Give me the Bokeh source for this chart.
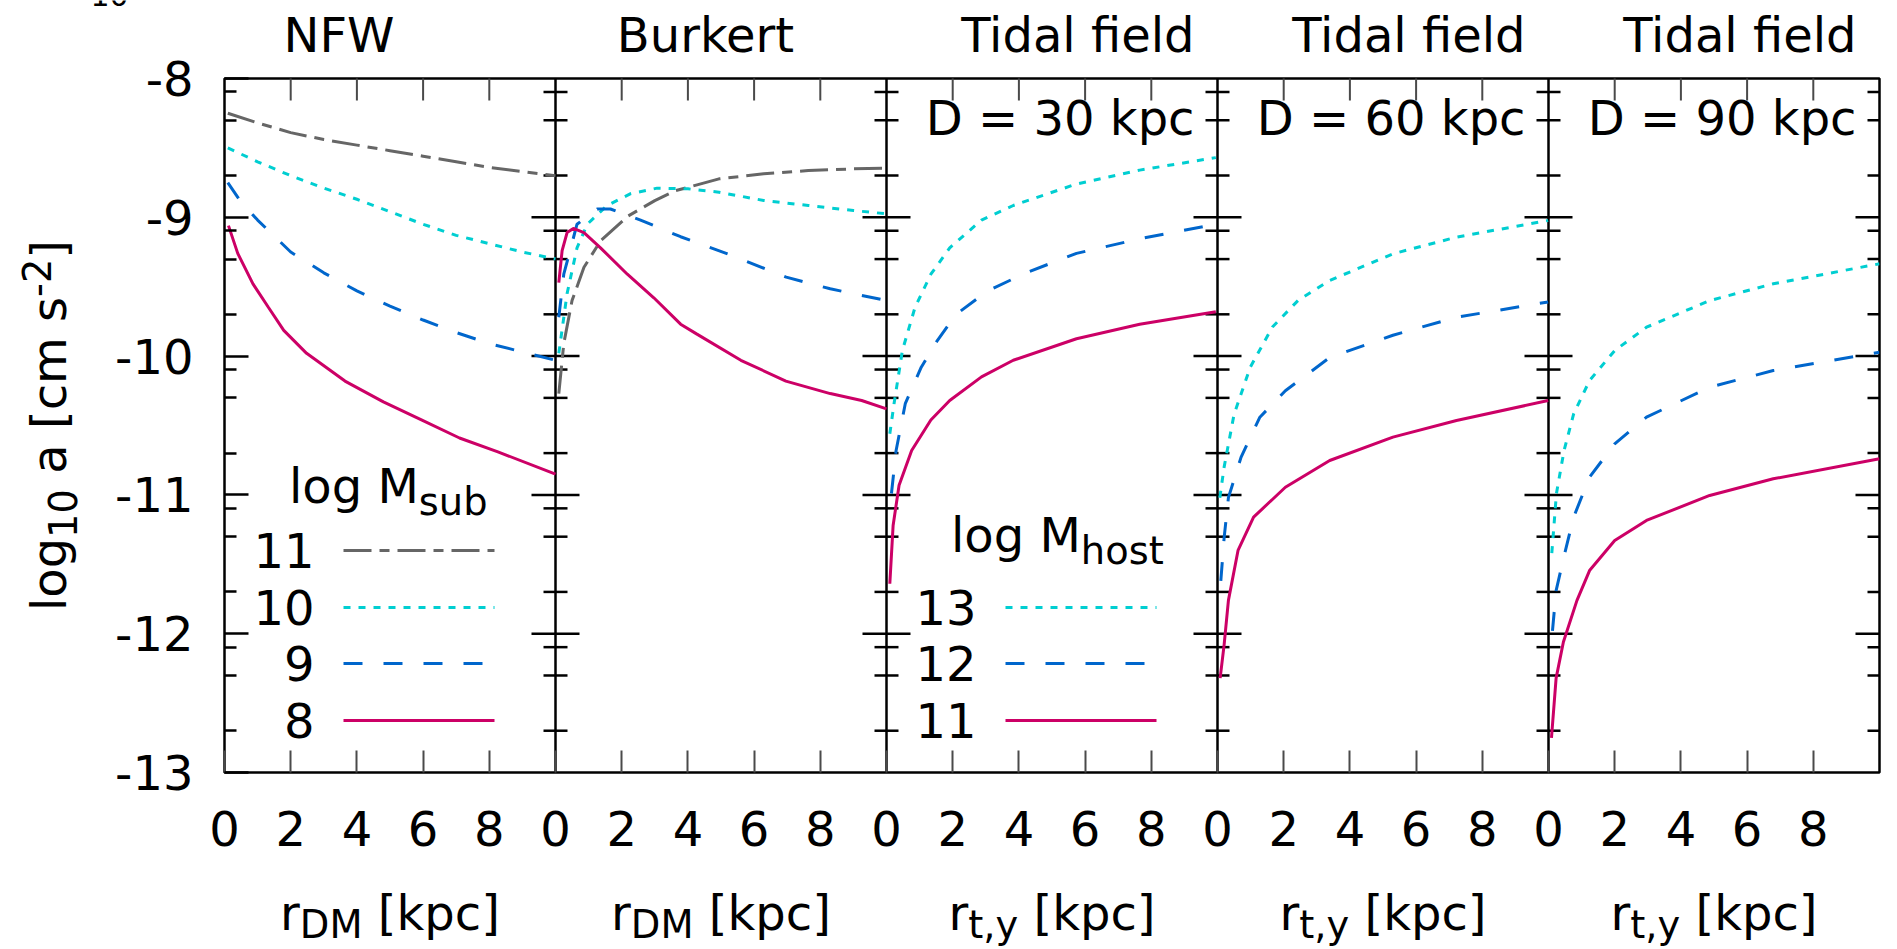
import math
from bokeh.plotting import figure
from bokeh.layouts import column, row
from bokeh.models import Range1d, FixedTicker, Label
from bokeh.embed import file_html
from bokeh.resources import INLINE

# ---------------- data ----------------
panel_titles = ["NFW", "Burkert", "Tidal field", "Tidal field", "Tidal field"]
panel_notes = ["", "", "D = 30 kpc", "D = 60 kpc", "D = 90 kpc"]
x_label_subs = ["DM", "DM", "t,y", "t,y", "t,y"]
x_tick_values = [0, 2, 4, 6, 8]
y_tick_values = [-13, -12, -11, -10, -9, -8]
y_minor_mantissas = [2, 5, 8]
sub_mass_labels = ["11", "10", "9", "8"]
host_mass_labels = ["13", "12", "11"]

# NFW, log M_sub = 11, 10, 9, 8
nfw_m11_x = [0.1, 1, 2, 3, 4, 5, 6, 7, 8, 9, 10]
nfw_m11_y = [-8.25, -8.32, -8.39, -8.44, -8.48, -8.52, -8.56, -8.60, -8.64, -8.67, -8.70]
nfw_m10_x = [0.1, 1, 2, 3, 4, 5, 6, 7, 8, 9, 10]
nfw_m10_y = [-8.50, -8.60, -8.70, -8.79, -8.87, -8.96, -9.05, -9.13, -9.19, -9.25, -9.30]
nfw_m9_x = [0.1, 0.5, 1, 2, 3, 4, 5, 6, 7, 8, 9, 10]
nfw_m9_y = [-8.75, -8.89, -9.02, -9.25, -9.40, -9.53, -9.64, -9.74, -9.83, -9.91, -9.97, -10.03]
nfw_m8_x = [0.12, 0.4, 0.86, 1.33, 1.79, 2.48, 3.64, 4.8, 5.95, 7.1, 8.26, 10]
nfw_m8_y = [-9.06, -9.26, -9.48, -9.65, -9.815, -9.98, -10.18, -10.33, -10.46, -10.59, -10.69, -10.85]

# Burkert, log M_sub = 11, 10, 9, 8
bur_m11_x = [0.1, 0.25, 0.5, 0.86, 1.36, 2.2, 3.0, 3.6, 4.94, 6.29, 7.64, 9.0, 10]
bur_m11_y = [-10.27, -9.91, -9.6, -9.36, -9.17, -8.99, -8.88, -8.81, -8.723, -8.687, -8.663, -8.651, -8.646]
bur_m10_x = [0.1, 0.35, 0.65, 0.96, 1.56, 2.27, 3.07, 4.0, 4.94, 6.29, 7.64, 9.0, 10]
bur_m10_y = [-9.98, -9.55, -9.22, -9.05, -8.915, -8.83, -8.79, -8.795, -8.819, -8.879, -8.915, -8.951, -8.975]
bur_m9_x = [0.1, 0.25, 0.65, 1.26, 1.66, 2.57, 3.78, 5.2, 6.97, 8.3, 10]
bur_m9_y = [-9.72, -9.41, -9.05, -8.94, -8.94, -9.02, -9.14, -9.263, -9.431, -9.515, -9.6]
bur_m8_x = [0.1, 0.2, 0.35, 0.54, 0.86, 1.36, 2.17, 2.97, 3.78, 4.26, 5.6, 6.96, 8.3, 9.25, 10]
bur_m8_y = [-9.47, -9.24, -9.11, -9.08, -9.11, -9.22, -9.41, -9.58, -9.77, -9.84, -10.03, -10.18, -10.27, -10.32, -10.38]

# Tidal field D = 30 kpc, log M_host = 13, 12, 11
t30_h13_x = [0.1, 0.23, 0.48, 0.86, 1.34, 1.91, 2.87, 3.83, 5.74, 7.65, 9.95]
t30_h13_y = [-10.56, -10.34, -9.96, -9.65, -9.41, -9.22, -9.02, -8.915, -8.76, -8.66, -8.57]
t30_h12_x = [0.15, 0.29, 0.57, 1.05, 1.53, 2.1, 3.06, 4.21, 5.74, 7.65, 9.95]
t30_h12_y = [-10.99, -10.68, -10.34, -10.08, -9.89, -9.70, -9.53, -9.40, -9.26, -9.155, -9.05]
t30_h11_x = [0.1, 0.2, 0.38, 0.76, 1.34, 1.91, 2.87, 3.83, 5.74, 7.65, 9.95]
t30_h11_y = [-11.64, -11.22, -10.93, -10.68, -10.46, -10.32, -10.15, -10.03, -9.875, -9.77, -9.68]

# Tidal field D = 60 kpc
t60_h13_x = [0.07, 0.2, 0.5, 0.99, 1.66, 2.43, 3.39, 5.3, 7.22, 9.99]
t60_h13_y = [-11.02, -10.8, -10.42, -10.08, -9.79, -9.60, -9.455, -9.263, -9.143, -9.023]
t60_h12_x = [0.1, 0.2, 0.33, 0.71, 1.28, 2.05, 3.39, 5.3, 7.22, 9.99]
t60_h12_y = [-11.62, -11.31, -11.02, -10.73, -10.44, -10.25, -10.01, -9.85, -9.72, -9.61]
t60_h11_x = [0.08, 0.2, 0.33, 0.62, 1.09, 2.05, 3.39, 5.3, 7.22, 9.99]
t60_h11_y = [-12.32, -12.08, -11.76, -11.4, -11.16, -10.945, -10.752, -10.584, -10.464, -10.32]

# Tidal field D = 90 kpc
t90_h13_x = [0.1, 0.24, 0.47, 0.76, 1.24, 2.0, 2.96, 4.87, 6.79, 10]
t90_h13_y = [-11.42, -10.99, -10.68, -10.416, -10.176, -9.96, -9.792, -9.6, -9.479, -9.335]
t90_h12_x = [0.12, 0.23, 0.45, 0.76, 1.24, 2.0, 2.96, 4.87, 6.79, 10]
t90_h12_y = [-11.98, -11.69, -11.46, -11.16, -10.872, -10.632, -10.44, -10.224, -10.104, -9.972]
t90_h11_x = [0.09, 0.23, 0.45, 0.86, 1.24, 2.0, 2.96, 4.87, 6.79, 10]
t90_h11_y = [-12.75, -12.32, -12.06, -11.76, -11.545, -11.329, -11.184, -11.004, -10.884, -10.74]

# ---------------- styles / layout ----------------
FONT = "DejaVu Sans"
FS = 48
SFS = 38.4
GREY = dict(line_color="#666666", line_dash="28 8 10 8")
CYAN = dict(line_color="#00ced1", line_dash="7 8")
BLUE = dict(line_color="#0066cc", line_dash="19 21")
MAG = dict(line_color="#cc0066", line_dash="solid")
LW = 3

panels = [
    [(nfw_m11_x, nfw_m11_y, GREY), (nfw_m10_x, nfw_m10_y, CYAN), (nfw_m9_x, nfw_m9_y, BLUE), (nfw_m8_x, nfw_m8_y, MAG)],
    [(bur_m11_x, bur_m11_y, GREY), (bur_m10_x, bur_m10_y, CYAN), (bur_m9_x, bur_m9_y, BLUE), (bur_m8_x, bur_m8_y, MAG)],
    [(t30_h13_x, t30_h13_y, CYAN), (t30_h12_x, t30_h12_y, BLUE), (t30_h11_x, t30_h11_y, MAG)],
    [(t60_h13_x, t60_h13_y, CYAN), (t60_h12_x, t60_h12_y, BLUE), (t60_h11_x, t60_h11_y, MAG)],
    [(t90_h13_x, t90_h13_y, CYAN), (t90_h12_x, t90_h12_y, BLUE), (t90_h11_x, t90_h11_y, MAG)],
]
PANEL_W = 10

W, H = 1897, 949
FL, FT, FW, FH = 224, 78, 1655, 694
TOP_H = 66          # strip holding the panel titles
OVERLAP = 18        # the plotting row starts this far above the strip's bottom
ROW_Y0 = TOP_H - OVERLAP
LEFT_W = 90
MAIN_TOP = FT - ROW_Y0
MAIN_BOTTOM = 100
MID_H = MAIN_TOP + FH + MAIN_BOTTOM
BOT_Y0 = ROW_Y0 + MID_H
BOT_H = H - BOT_Y0
NP = len(panels)
XMAX = NP * PANEL_W
YMIN, YMAX = y_tick_values[0], y_tick_values[-1]
PXU = FW / XMAX
BASE_FIX = 0.36  # baseline correction (fraction of font size)


def dx(px):
    return (px - FL) * XMAX / FW


def dy(py):
    return YMAX - (py - FT) * (YMAX - YMIN) / FH


ADV = {' ': 651, '-': 739, ',': 651, '[': 799, ']': 799, 'D': 1577, 'M': 1767,
       'a': 1255, 'b': 1300, 'c': 1126, 'g': 1300, 'h': 1298, 'k': 1186, 'l': 569,
       'm': 1995, 'o': 1253, 'p': 1300, 'r': 842, 's': 1067, 't': 803, 'u': 1298, 'y': 1212}
for d in "0123456789":
    ADV[d] = 1303


def adv(s, size):
    return sum(ADV.get(c, 1300) for c in s) / 2048.0 * size


def text_fig(w, h, y_top, y_bottom, border_top=0, border_bottom=0):
    """A plain strip whose data coordinates are page pixels."""
    f = figure(width=w, height=h, output_backend="svg", toolbar_location=None,
               x_range=Range1d(0, w), y_range=Range1d(y_bottom, y_top),
               x_axis_type=None, y_axis_type=None,
               min_border_left=0, min_border_right=0,
               min_border_top=border_top, min_border_bottom=border_bottom,
               background_fill_color=None, border_fill_color=None)
    f.outline_line_color = None
    f.grid.visible = False
    return f


def put(f, x, y, text, size=FS, align="left", angle=0.0):
    f.add_layout(Label(x=x, y=y, text=text, text_font=FONT,
                       text_font_size=f"{size}px", text_align=align,
                       text_baseline="alphabetic", text_color="black", angle=angle))


# ---------- main plotting figure ----------
p = figure(width=W - LEFT_W, height=MID_H, output_backend="svg", toolbar_location=None,
           x_range=Range1d(0, XMAX), y_range=Range1d(YMIN, YMAX),
           min_border_left=FL - LEFT_W, min_border_right=W - FL - FW,
           min_border_top=MAIN_TOP, min_border_bottom=MAIN_BOTTOM,
           background_fill_color="white", border_fill_color=None)
p.outline_line_color = "black"
p.outline_line_width = 2.5
p.ygrid.visible = False
p.xgrid.ticker = FixedTicker(ticks=[PANEL_W * k for k in range(1, NP)])
p.xgrid.grid_line_color = "black"
p.xgrid.grid_line_width = 2.5

x_ticks_all = [PANEL_W * k + t for k in range(NP) for t in x_tick_values]
y_minor = [n + math.log10(m) for n in y_tick_values[:-1] for m in y_minor_mantissas]

bx = p.xaxis[0]
bx.ticker = FixedTicker(ticks=x_ticks_all, minor_ticks=[])
bx.axis_line_color = None
bx.major_tick_in = 22
bx.major_tick_out = 0
bx.minor_tick_in = 0
bx.minor_tick_out = 0
bx.major_tick_line_color = "#4a4a4a"
bx.major_tick_line_width = 2
bx.major_label_text_font = FONT
bx.major_label_text_font_size = f"{FS}px"
bx.major_label_text_color = "black"
bx.major_label_overrides = {t: str(t % PANEL_W) for t in x_ticks_all}
bx.major_label_standoff = 38

ly = p.yaxis[0]
ly.ticker = FixedTicker(ticks=y_tick_values, minor_ticks=y_minor)
ly.axis_line_color = None
ly.major_tick_in = 24
ly.major_tick_out = 0
ly.minor_tick_in = 12
ly.minor_tick_out = 0
ly.major_tick_line_color = "black"
ly.major_tick_line_width = 2.5
ly.minor_tick_line_color = "black"
ly.minor_tick_line_width = 2.5
ly.major_label_text_font = FONT
ly.major_label_text_font_size = f"{FS}px"
ly.major_label_text_color = "black"
ly.major_label_overrides = {t: str(t) for t in y_tick_values}
ly.major_label_standoff = 31

# ticks on the inner panel borders (both sides) and on the right edge
div_x = [PANEL_W * k for k in range(1, NP + 1)]
inner_major = [t for t in y_tick_values if YMIN < t < YMAX]
p.scatter([x for x in div_x for _ in inner_major], [t for _ in div_x for t in inner_major],
          marker="dash", size=48, line_color="black", line_width=2.5)
p.scatter([x for x in div_x for _ in y_minor], [t for _ in div_x for t in y_minor],
          marker="dash", size=24, line_color="black", line_width=2.5)
# ticks along the top edge
top_ticks = [t for t in x_ticks_all if t % PANEL_W != 0]
p.scatter(top_ticks, [YMAX] * len(top_ticks), marker="dash", angle=math.pi / 2,
          size=44, line_color="#4a4a4a", line_width=2)

# curves
for k, series in enumerate(panels):
    off = PANEL_W * k
    for xs, ys, st in series:
        p.line([x + off for x in xs], ys, line_width=LW, **st)


def plab(x_px, y_px, text, size=FS, align="left"):
    p.add_layout(Label(x=dx(x_px), y=dy(y_px - BASE_FIX * size), text=text, text_font=FONT,
                       text_font_size=f"{size}px", text_align=align,
                       text_baseline="alphabetic", text_color="black"))


# distance notes inside the panels
for k in range(NP):
    right_px = FL + (k + 1) * PANEL_W * PXU
    if panel_notes[k]:
        plab(right_px - 23, 135, panel_notes[k], align="right")

# legends
ENTRY_Y = [550, 607, 663, 720]


def legend(k, title_sub, title_base, labels, styles):
    left_px = FL + k * PANEL_W * PXU
    x0 = left_px + 64.5
    plab(x0, title_base, "log M")
    plab(x0 + adv("log M", FS), title_base + 12, title_sub, SFS)
    rows = ENTRY_Y[len(ENTRY_Y) - len(labels):]
    for ytxt, text, st in zip(rows, labels, styles):
        plab(left_px + 90, ytxt + 17.5, text, align="right")
        p.line([dx(left_px + 119), dx(left_px + 270)], [dy(ytxt), dy(ytxt)], line_width=LW, **st)


legend(0, "sub", 503, sub_mass_labels, [GREY, CYAN, BLUE, MAG])
legend(2, "host", 552, host_mass_labels, [CYAN, BLUE, MAG])

# ---------- top strip: panel titles ----------
top = text_fig(W, TOP_H, 0, TOP_H)
title_center_px = {0: 338.5, 1: 705}
for k in range(NP):
    right_px = FL + (k + 1) * PANEL_W * PXU
    if k in title_center_px:
        put(top, title_center_px[k], 52 - BASE_FIX * FS, panel_titles[k], align="center")
    else:
        put(top, right_px - 23, 52 - BASE_FIX * FS, panel_titles[k], align="right")
put(top, 90, 5 - BASE_FIX * 30, "10", 30)

# ---------- left strip: y axis title (frame aligned with the main frame) ----------
left = text_fig(LEFT_W, MID_H, FT, FT + FH, border_top=MAIN_TOP, border_bottom=MAIN_BOTTOM)
ypieces = [("log", FS, 0), ("10", SFS, 10), (" a [cm s", FS, 0), ("-2", SFS, -16), ("]", FS, 0)]
ytotal = sum(adv(t, s) for t, s, _ in ypieces)
ycur = (FT + FH / 2) + ytotal / 2
for t, s, sh in ypieces:
    lead = len(t) - len(t.lstrip(" "))
    put(left, 66 + sh - BASE_FIX * s, ycur - adv(" " * lead, s), t.lstrip(" "), s, angle=math.pi / 2)
    ycur -= adv(t, s)

# ---------- bottom strip: x axis titles ----------
bot = text_fig(W, BOT_H, BOT_Y0, H)
for k in range(NP):
    cx = FL + (k + 0.5) * PANEL_W * PXU
    pieces = [("r", FS, 0), (x_label_subs[k], SFS, 8), (" [kpc]", FS, 0)]
    total = sum(adv(t, s) for t, s, _ in pieces)
    xcur = cx - total / 2
    for t, s, sh in pieces:
        lead = len(t) - len(t.lstrip(" "))
        put(bot, xcur + adv(" " * lead, s), 930 + sh - BASE_FIX * s, t.lstrip(" "), s)
        xcur += adv(t, s)

mid = row(left, p, margin=(-OVERLAP, 0, 0, 0))
layout = column(top, mid, bot)
open("out.html", "w").write(file_html(layout, INLINE))
